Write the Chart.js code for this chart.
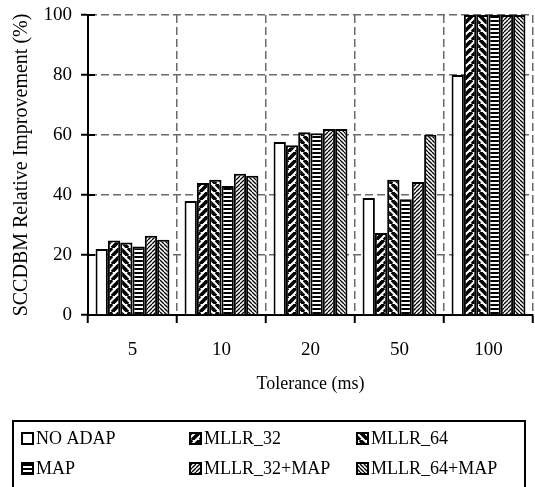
<!DOCTYPE html>
<html>
<head>
<meta charset="utf-8">
<script src="https://cdn.jsdelivr.net/npm/chart.js@4/dist/chart.umd.min.js"></script>
<style>
  html, body { margin: 0; padding: 0; background: #fff; }
</style>
</head>
<body>
<canvas id="chart" width="535" height="487"></canvas>
<script>
// data
const categories = ['5', '10', '20', '50', '100'];
const seriesNames = ['NO ADAP', 'MLLR_32', 'MLLR_64', 'MAP', 'MLLR_32+MAP', 'MLLR_64+MAP'];
const noAdap    = [22.0, 38.0, 57.7, 39.0, 80];
const mllr32    = [24.8, 44.0, 56.6, 27.3, 100];
const mllr64    = [24.2, 45.1, 60.9, 45.1, 100];
const mapOnly   = [22.8, 43.0, 60.6, 38.6, 100];
const mllr32Map = [26.4, 47.1, 62.0, 44.3, 100];
const mllr64Map = [25.1, 46.4, 62.0, 60.1, 100];
const yTicks = [0, 20, 40, 60, 80, 100];

const fontFamily = '"Liberation Serif", "Times New Roman", serif';
const gridGray = '#6a6a6a';

// hatch fills
function makePattern(kind) {
    const s = kind.startsWith('wide') ? 8 : 4;
    const c = document.createElement('canvas');
    c.width = s; c.height = s;
    const g = c.getContext('2d');
    g.fillStyle = '#fff';
    g.fillRect(0, 0, s, s);
    g.fillStyle = '#000';
    g.strokeStyle = '#000';
    if (kind === 'horiz') {
        g.fillRect(0, 0, s, 2);
    } else if (kind !== 'none') {
        g.lineWidth = kind.startsWith('wide') ? 3.6 : 1.3;
        const up = kind.endsWith('Up');
        g.beginPath();
        for (let k = -1; k <= 1; k++) {
            if (up) { g.moveTo(k * s, s); g.lineTo(k * s + s, 0); }
            else { g.moveTo(k * s, 0); g.lineTo(k * s + s, s); }
        }
        g.stroke();
    }
    return g.createPattern(c, 'repeat');
}

const fills = [
    makePattern('none'),
    makePattern('wideUp'),
    makePattern('wideDown'),
    makePattern('horiz'),
    makePattern('thinUp'),
    makePattern('thinDown')
];
const seriesData = [noAdap, mllr32, mllr64, mapOnly, mllr32Map, mllr64Map];

// inner half of the y tick marks
const innerTicks = {
    id: 'innerTicks',
    afterDatasetsDraw(chart) {
        const { ctx, chartArea, scales } = chart;
        ctx.save();
        ctx.strokeStyle = '#000';
        ctx.lineWidth = 2;
        yTicks.forEach(v => {
            const y = scales.y.getPixelForValue(v);
            ctx.beginPath();
            ctx.moveTo(chartArea.left, y);
            ctx.lineTo(chartArea.left + 7, y);
            ctx.stroke();
        });
        ctx.restore();
    }
};

// boxed legend, three columns
const boxLegend = {
    id: 'boxLegend',
    afterDraw(chart) {
        const ctx = chart.ctx;
        const cols = [21, 189, 356];
        const rows = [438, 468];
        ctx.save();
        ctx.strokeStyle = '#000';
        ctx.lineWidth = 2;
        ctx.strokeRect(13, 421, 512, 90);
        ctx.font = '18px ' + fontFamily;
        ctx.textBaseline = 'middle';
        chart.data.datasets.forEach((ds, i) => {
            const x = cols[i % 3];
            const y = rows[Math.floor(i / 3)];
            ctx.fillStyle = ds.backgroundColor;
            ctx.fillRect(x, y - 6, 13, 13);
            ctx.strokeRect(x + 1, y - 5, 11, 11);
            ctx.fillStyle = '#000';
            ctx.fillText(ds.label, x + 15, y + 1);
        });
        ctx.restore();
    }
};

new Chart(document.getElementById('chart'), {
    type: 'bar',
    data: {
        labels: categories,
        datasets: seriesNames.map((name, i) => ({
            label: name,
            data: seriesData[i],
            backgroundColor: fills[i],
            borderColor: '#000',
            borderWidth: 2,
            categoryPercentage: 0.83,
            barPercentage: 1.0
        }))
    },
    options: {
        responsive: false,
        animation: false,
        layout: { padding: { top: 15, right: 2, bottom: 90, left: 0 } },
        plugins: {
            legend: { display: false },
            tooltip: { enabled: false }
        },
        scales: {
            x: {
                afterFit: scale => { scale.height = 82; },
                grid: {
                    color: ctx => ctx.index === 0 ? 'rgba(0,0,0,0)' : gridGray,
                    lineWidth: 1.5,
                    tickColor: '#000',
                    tickWidth: 2,
                    tickLength: 8
                },
                border: { color: '#000', width: 2, dash: [8, 4] },
                ticks: {
                    color: '#000',
                    padding: 16,
                    font: { family: fontFamily, size: 19 }
                },
                title: {
                    display: true,
                    text: 'Tolerance (ms)',
                    color: '#000',
                    padding: { top: 0, bottom: 2 },
                    font: { family: fontFamily, size: 18 }
                }
            },
            y: {
                min: 0,
                max: 100,
                afterFit: scale => {
                    scale.width = 88;
                    scale.paddingTop = 0;
                    scale.paddingBottom = 0;
                },
                afterBuildTicks: scale => { scale.ticks = yTicks.map(v => ({ value: v })); },
                grid: {
                    color: ctx => ctx.tick && ctx.tick.value === 0 ? 'rgba(0,0,0,0)' : gridGray,
                    lineWidth: 1.5,
                    tickColor: '#000',
                    tickWidth: 2,
                    tickLength: 7
                },
                border: { color: '#000', width: 2, dash: [8, 4] },
                ticks: {
                    color: '#000',
                    padding: 9,
                    font: { family: fontFamily, size: 19 }
                },
                title: {
                    display: true,
                    text: 'SCCDBM Relative Improvement (%)',
                    color: '#000',
                    padding: { top: 10, bottom: 0 },
                    font: { family: fontFamily, size: 20 }
                }
            }
        }
    },
    plugins: [innerTicks, boxLegend]
});
</script>
</body>
</html>
